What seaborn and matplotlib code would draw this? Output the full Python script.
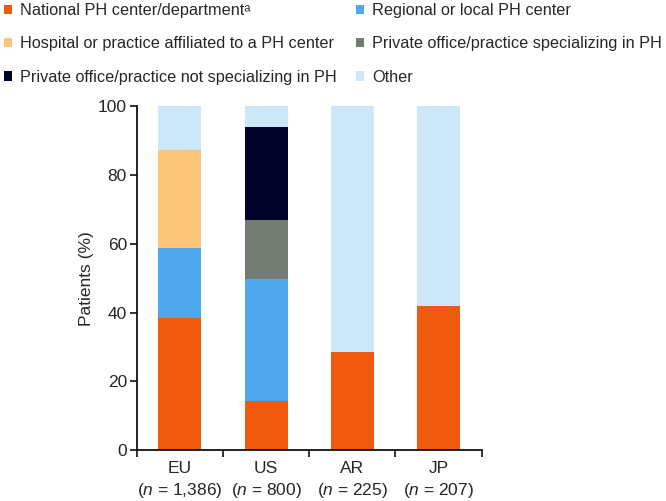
import matplotlib
matplotlib.use("Agg")
import matplotlib.pyplot as plt
from matplotlib.patches import Patch
import seaborn as sns
import numpy as np
import pandas as pd

sns.set_theme(style="ticks")
plt.rcParams['font.family'] = ['Liberation Sans', 'DejaVu Sans']
plt.rcParams['mathtext.fontset'] = 'custom'
plt.rcParams['mathtext.rm'] = 'Liberation Sans'
plt.rcParams['mathtext.it'] = 'Liberation Sans:italic'

regions = ["EU", "US", "AR", "JP"]
n_labels = ["1,386", "800", "225", "207"]
series = ["National PH center/department\u1d43",
          "Regional or local PH center",
          "Hospital or practice affiliated to a PH center",
          "Private office/practice specializing in PH",
          "Private office/practice not specializing in PH",
          "Other"]
national = [38.3, 14.3, 28.6, 41.9]
regional = [20.6, 35.5, 0, 0]
hospital = [28.4, 0, 0, 0]
priv_spec = [0, 17.2, 0, 0]
priv_not = [0, 27.1, 0, 0]
other = [12.7, 5.9, 71.4, 58.1]
colors = ["#F05A0F", "#4FA8EC", "#FBC57A", "#737B72", "#02032A", "#CCE7F8"]

values = [national, regional, hospital, priv_spec, priv_not, other]
cum = np.cumsum(np.array(values), axis=0)

W, H = 666, 501
fig = plt.figure(figsize=(W / 100, H / 100), dpi=100)
ax = fig.add_axes([136.7 / W, 1 - 450 / H, 345 / W, 343.7 / H])

for i in range(len(series) - 1, -1, -1):
    df = pd.DataFrame({"region": regions, "top": cum[i]})
    sns.barplot(data=df, x="region", y="top", color=colors[i], width=0.5,
                saturation=1, ax=ax, linewidth=0, order=regions)

ax.set_ylim(0, 100)
ax.set_xlim(-0.5, 3.5)
ax.set_yticks([0, 20, 40, 60, 80, 100])
ax.set_xticks(range(4))
ax.set_xticklabels([f"{r}\n($\\it{{n}}$ = {n})" for r, n in zip(regions, n_labels)],
                   fontsize=12.5, linespacing=1.35)
ax.set_xticks([-0.5, 0.5, 1.5, 2.5, 3.5], minor=True)
ax.tick_params(axis="x", which="major", length=0, pad=8)
ax.tick_params(axis="x", which="minor", length=5, width=1.2, color="#111111")
ax.tick_params(axis="y", length=5, width=1.2, color="#111111", labelsize=12.5, pad=2)
ax.set_xlabel("")
ax.set_ylabel("Patients (%)", fontsize=12.5, labelpad=3)
for s in ["top", "right"]:
    ax.spines[s].set_visible(False)
for s in ["left", "bottom"]:
    ax.spines[s].set_linewidth(1.3)
    ax.spines[s].set_color("#111111")

handles = [Patch(facecolor=c, edgecolor="none") for c in colors]
common = dict(loc="upper left", frameon=False, fontsize=11.7, handlelength=0.5,
              handleheight=0.5, handletextpad=0.5, labelspacing=1.13,
              borderaxespad=0, borderpad=0)
leg1 = fig.legend([handles[i] for i in (0, 2, 4)], [series[i] for i in (0, 2, 4)],
                  bbox_to_anchor=(4 / W, 1 - 3 / H), **common)
leg2 = fig.legend([handles[i] for i in (1, 3, 5)], [series[i] for i in (1, 3, 5)],
                  bbox_to_anchor=(356 / W, 1 - 3 / H), **common)

fig.savefig("out.png", dpi=100)
